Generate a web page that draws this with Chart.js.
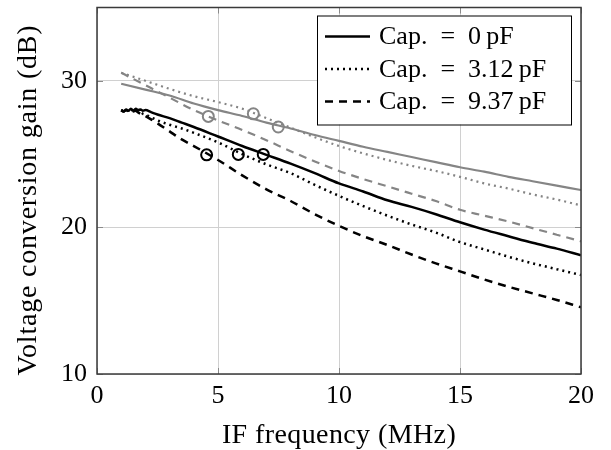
<!DOCTYPE html>
<html>
<head>
<meta charset="utf-8">
<script src="https://cdn.jsdelivr.net/npm/chart.js@4.4.1/dist/chart.umd.min.js"></script>
<style>
  body { margin: 0; background: #fff; }
  #wrap { width: 611px; height: 450px; }
</style>
</head>
<body>
<div id="wrap"><canvas id="gainChart" width="611" height="450"></canvas></div>
<script>
// measured curves (black), frequency in MHz, gain in dB
const measFreq = [1, 1.1, 1.2, 1.3, 1.4, 1.5, 1.6, 1.7, 1.8, 1.9, 2, 2.25, 2.5, 3, 3.5, 4, 5, 6, 7, 8, 9, 10, 11, 12, 13, 14, 15, 16, 17, 18, 19, 20];
const cap0Meas = [28.0, 27.9, 28.05, 27.95, 28.1, 27.95, 28.1, 28.0, 28.05, 27.95, 28.0, 27.85, 27.7, 27.45, 27.15, 26.85, 26.2, 25.55, 24.95, 24.35, 23.7, 23.0, 22.45, 21.85, 21.4, 20.9, 20.35, 19.85, 19.4, 18.95, 18.55, 18.1];
const cap312Meas = [28.0, 27.95, 28.05, 27.9, 28.05, 27.95, 28.0, 27.9, 27.85, 27.75, 27.7, 27.5, 27.3, 27.0, 26.75, 26.45, 25.8, 25.0, 24.3, 23.7, 22.9, 22.15, 21.45, 20.8, 20.2, 19.65, 19.0, 18.5, 18.0, 17.55, 17.15, 16.75];
const cap937Meas = [28.0, 27.9, 28.0, 27.95, 28.05, 27.9, 27.95, 27.85, 27.75, 27.7, 27.6, 27.35, 27.1, 26.55, 26.0, 25.55, 24.6, 23.55, 22.6, 21.8, 20.9, 20.1, 19.4, 18.8, 18.15, 17.55, 17.0, 16.45, 15.95, 15.5, 15.05, 14.55];

// simulated curves (gray)
const simFreq = [1, 2, 3, 4, 5, 6, 7, 8, 9, 10, 11, 12, 13, 14, 15, 16, 17, 18, 19, 20];
const cap0Sim = [29.8, 29.4, 29.0, 28.45, 28.0, 27.6, 27.15, 26.75, 26.3, 25.9, 25.5, 25.15, 24.8, 24.45, 24.1, 23.8, 23.45, 23.15, 22.85, 22.55];
const cap312Sim = [30.55, 30.0, 29.45, 28.95, 28.55, 28.1, 27.45, 26.8, 26.15, 25.55, 25.05, 24.6, 24.2, 23.85, 23.45, 23.0, 22.65, 22.25, 21.9, 21.5];
const cap937Sim = [30.55, 29.7, 28.85, 28.0, 27.3, 26.65, 25.95, 25.2, 24.5, 23.85, 23.3, 22.8, 22.3, 21.8, 21.2, 20.8, 20.4, 19.95, 19.5, 19.05];

// circle markers
const measMarkFreq = [4.53, 5.84, 6.87];
const measMarkGain = [24.95, 24.98, 24.98];
const simMarkFreq = [4.6, 6.46, 7.49];
const simMarkGain = [27.57, 27.75, 26.85];

const legendLabels = ['Cap.\u2002=\u20020\u2009pF', 'Cap.\u2002=\u20023.12\u2009pF', 'Cap.\u2002=\u20029.37\u2009pF'];
const xTicks = [0, 5, 10, 15, 20];
const yTicks = [10, 20, 30];

const SERIF = '"Liberation Serif", "DejaVu Serif", serif';
const GRAY = '#858585';

const pts = (xs, ys) => xs.map((x, i) => ({ x: x, y: ys[i] }));

const lineSet = (label, xs, ys, color, width, dash) => ({
    label: label,
    data: pts(xs, ys),
    borderColor: color,
    borderWidth: width,
    borderDash: dash,
    pointRadius: 0,
    showLine: true,
    fill: false,
    cubicInterpolationMode: 'monotone'
});

const markSet = (xs, ys, color) => ({
    data: pts(xs, ys),
    borderColor: color,
    backgroundColor: 'rgba(0,0,0,0)',
    borderWidth: 2,
    pointRadius: 5.5,
    pointStyle: 'circle',
    showLine: false
});

const DOT = [2, 4];
const DASH = [8, 6];

// dataset 0 is drawn on top
const datasets = [
    markSet(measMarkFreq, measMarkGain, '#000'),
    markSet(simMarkFreq, simMarkGain, GRAY),
    lineSet(legendLabels[0], measFreq, cap0Meas, '#000', 2.5, []),
    lineSet(legendLabels[1], measFreq, cap312Meas, '#000', 2.5, DOT),
    lineSet(legendLabels[2], measFreq, cap937Meas, '#000', 2.5, DASH),
    lineSet('', simFreq, cap0Sim, GRAY, 2.2, []),
    lineSet('', simFreq, cap312Sim, GRAY, 2.2, DOT),
    lineSet('', simFreq, cap937Sim, GRAY, 2.2, DASH)
];
const legendIdx = [2, 3, 4];

const framePlugin = {
    id: 'frame',
    afterDatasetsDraw(chart) {
        const { ctx, chartArea: a, scales } = chart;
        ctx.save();
        // small inner ticks
        ctx.strokeStyle = '#8a8a8a';
        ctx.lineWidth = 1;
        ctx.beginPath();
        xTicks.forEach(v => {
            const px = Math.round(scales.x.getPixelForValue(v)) + 0.5;
            ctx.moveTo(px, a.bottom); ctx.lineTo(px, a.bottom - 6);
            ctx.moveTo(px, a.top); ctx.lineTo(px, a.top + 6);
        });
        yTicks.forEach(v => {
            const py = Math.round(scales.y.getPixelForValue(v)) + 0.5;
            ctx.moveTo(a.left, py); ctx.lineTo(a.left + 6, py);
            ctx.moveTo(a.right, py); ctx.lineTo(a.right - 6, py);
        });
        ctx.stroke();
        ctx.strokeStyle = '#3a3a3a';
        ctx.lineWidth = 1.5;
        ctx.strokeRect(a.left, a.top, a.right - a.left, a.bottom - a.top);

        // legend box
        const bx = a.right - 264, by = a.top + 8, bw = 254, bh = 109;
        ctx.fillStyle = '#fff';
        ctx.fillRect(bx, by, bw, bh);
        ctx.strokeStyle = '#000';
        ctx.lineWidth = 1;
        ctx.strokeRect(bx + 0.5, by + 0.5, bw, bh);
        ctx.font = '26px ' + SERIF;
        ctx.textBaseline = 'middle';
        ctx.textAlign = 'left';
        legendIdx.forEach((di, i) => {
            const ds = chart.data.datasets[di];
            const ry = by + 21 + i * 32.5;
            ctx.strokeStyle = ds.borderColor;
            ctx.lineWidth = ds.borderWidth;
            ctx.setLineDash(ds.borderDash);
            ctx.beginPath();
            ctx.moveTo(bx + 8, ry);
            ctx.lineTo(bx + 53, ry);
            ctx.stroke();
            ctx.setLineDash([]);
            ctx.fillStyle = '#000';
            ctx.fillText(ds.label, bx + 62, ry + 1);
        });

        // axis titles
        ctx.fillStyle = '#000';
        ctx.font = '28px ' + SERIF;
        ctx.textAlign = 'center';
        ctx.letterSpacing = '0.4px';
        ctx.fillText('IF frequency (MHz)', (a.left + a.right) / 2, 436);
        ctx.letterSpacing = '0.8px';
        ctx.translate(29, 200);
        ctx.rotate(-Math.PI / 2);
        ctx.fillText('Voltage conversion gain (dB)', 0, 0);
        ctx.restore();
    }
};

const ctx = document.getElementById('gainChart').getContext('2d');
const gainChart = new Chart(ctx, {
    type: 'scatter',
    data: { datasets: datasets },
    options: {
        responsive: false,
        animation: false,
        layout: { padding: { left: 0, right: 30, top: 6, bottom: 0 } },
        plugins: { legend: { display: false }, tooltip: { enabled: false } },
        scales: {
            x: {
                type: 'linear', min: 0, max: 20,
                afterFit: s => { s.height = 76; s.paddingLeft = 0; s.paddingRight = 0; },
                afterBuildTicks: s => { s.ticks = xTicks.map(v => ({ value: v })); },
                grid: { color: '#d0d0d0', lineWidth: 1, drawTicks: false },
                border: { display: false },
                ticks: { color: '#000', padding: 7, font: { family: SERIF, size: 26 } }
            },
            y: {
                type: 'linear', min: 10, max: 35,
                afterFit: s => { s.width = 97; s.paddingTop = 0; s.paddingBottom = 0; },
                afterBuildTicks: s => { s.ticks = yTicks.map(v => ({ value: v })); },
                grid: { color: '#d0d0d0', lineWidth: 1, drawTicks: false },
                border: { display: false },
                ticks: { color: '#000', padding: 10, font: { family: SERIF, size: 26 } }
            }
        }
    },
    plugins: [framePlugin]
});
</script>
</body>
</html>
